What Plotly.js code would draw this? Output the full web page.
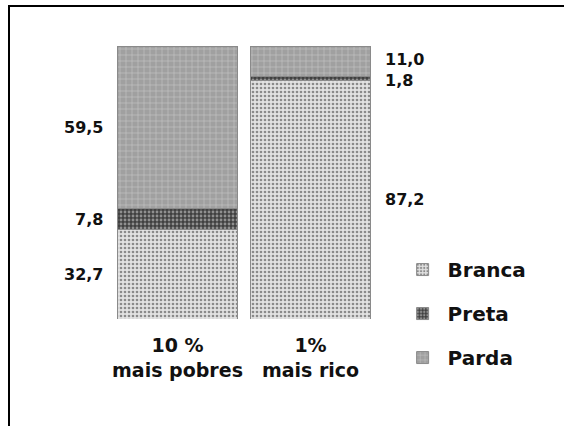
<!DOCTYPE html>
<html>
<head>
<meta charset="utf-8">
<script src="https://cdn.plot.ly/plotly-3.0.1.min.js"></script>
<style>
html,body{margin:0;padding:0;background:#fff;}
#chart{width:564px;height:426px;}
</style>
</head>
<body>
<div id="chart"></div>
<script>
// Data
var categories = ["10 %<br>mais pobres", "1%<br>mais rico"];
var seriesNames = ["Branca", "Preta", "Parda"];
var branca = [32.7, 87.2];
var preta = [7.8, 1.8];
var parda = [59.5, 11.0];
var valueLabels = [["32,7", "87,2"], ["7,8", "1,8"], ["59,5", "11,0"]];

var seriesValues = [branca, preta, parda];
var patterns = [
  {shape: ".", bgcolor: "#e2e2e2", fgcolor: "#8a8a8a", size: 4, solidity: 0.35},
  {shape: ".", bgcolor: "#404040", fgcolor: "#909090", size: 4, solidity: 0.4},
  {shape: "+", bgcolor: "#a0a0a0", fgcolor: "#cdcdcd", size: 6, solidity: 0.15}
];
var fills = ["#dcdcdc", "#4a4a4a", "#a8a8a8"];

var FONT = "DejaVu Sans, Verdana, sans-serif";

var traces = seriesNames.map(function(name, i) {
  return {
    type: "bar",
    name: name,
    x: categories,
    y: seriesValues[i],
    legendgroup: name,
    marker: {
      color: fills[i],
      pattern: patterns[i],
      line: {color: "#8a8a8a", width: 1}
    },
    hoverinfo: "skip"
  };
});

// value labels at segment midpoints, nudged apart when too close
var plotH = 273, minGapPx = 21;
var annotations = [];
for (var c = 0; c < categories.length; c++) {
  var base = 0, mids = [];
  for (var s = 0; s < seriesValues.length; s++) {
    mids.push(base + seriesValues[s][c] / 2);
    base += seriesValues[s][c];
  }
  var shifts = mids.map(function() { return 0; });
  for (var s2 = 1; s2 < mids.length; s2++) {
    var gap = (mids[s2] - mids[s2 - 1]) * plotH / 100;
    if (gap < minGapPx) {
      var d = (minGapPx - gap) / 2;
      shifts[s2] += d;
      shifts[s2 - 1] -= d;
    }
  }
  for (var s3 = 0; s3 < mids.length; s3++) {
    annotations.push({
      x: categories[c],
      y: mids[s3],
      xref: "x", yref: "y",
      yshift: shifts[s3],
      text: "<b>" + valueLabels[s3][c] + "</b>",
      showarrow: false,
      xanchor: c === 0 ? "right" : "left",
      xshift: c === 0 ? -73 : 72,
      font: {family: FONT, size: 16, color: "#111"}
    });
  }
}

var layout = {
  width: 564,
  height: 426,
  margin: {l: 111, r: 187, t: 46, b: 107},
  paper_bgcolor: "#ffffff",
  plot_bgcolor: "#ffffff",
  barmode: "stack",
  bargap: 0.105,
  showlegend: true,
  legend: {
    xref: "container", yref: "container",
    x: 0.705, y: 0.413,
    xanchor: "left", yanchor: "top",
    traceorder: "grouped",
    tracegroupgap: 15,
    itemwidth: 40,
    font: {family: FONT, size: 20, color: "#111", weight: "bold"},
    itemclick: false, itemdoubleclick: false
  },
  xaxis: {
    type: "category",
    range: [-0.5, 1.5],
    showgrid: false, zeroline: false, showline: false,
    ticks: "",
    ticklabelstandoff: 13,
    tickfont: {family: FONT, size: 19, color: "#111", weight: "bold"},
    fixedrange: true
  },
  yaxis: {
    range: [0, 100],
    visible: false,
    fixedrange: true
  },
  annotations: annotations,
  shapes: [
    {type: "line", xref: "paper", yref: "paper",
     x0: (8 - 111) / 266, x1: (564 - 111) / 266, y0: (319 - 6) / 273, y1: (319 - 6) / 273,
     line: {color: "#000", width: 2}},
    {type: "line", xref: "paper", yref: "paper",
     x0: (9 - 111) / 266, x1: (9 - 111) / 266, y0: (319 - 6) / 273, y1: (319 - 426) / 273,
     line: {color: "#000", width: 2}}
  ]
};

Plotly.newPlot("chart", traces, layout, {staticPlot: true, displayModeBar: false});
</script>
</body>
</html>
